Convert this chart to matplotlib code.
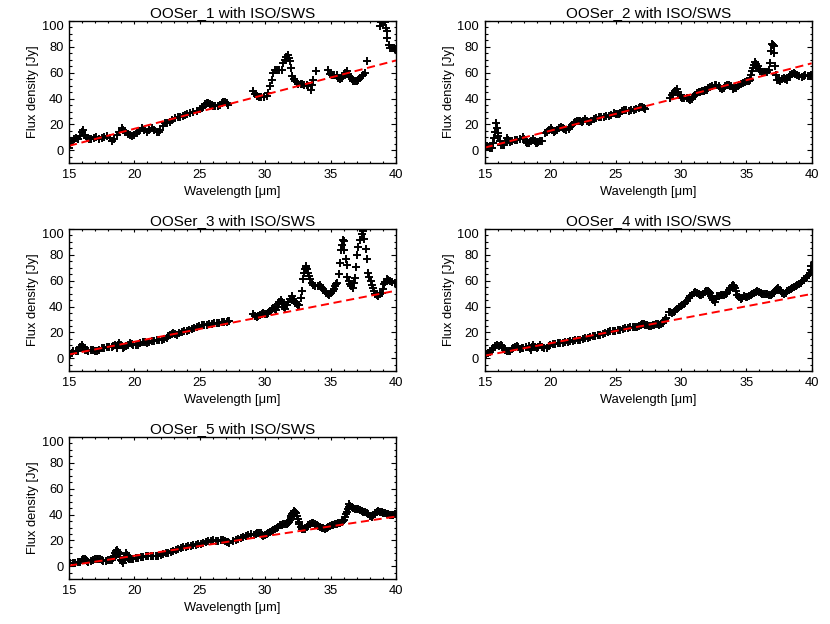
"""Five IRS-vs-ISO/SWS comparison panels (OOSer sources), IDL-style plots."""

import matplotlib

matplotlib.use("Agg")
import matplotlib.pyplot as plt  # noqa: E402
import numpy as np  # noqa: E402
from matplotlib.ticker import MultipleLocator  # noqa: E402

plt.rcParams["font.family"] = ["Liberation Sans", "DejaVu Sans"]

# (wavelength [um], flux density [Jy])
OOSER_1 = [
    (15.0, 1.6), (15.1, 5), (15.2, 7), (15.35, 8.5), (15.5, 9.3), (15.7, 9), (15.85, 11),
    (16.0, 14.5), (16.1, 15.7), (16.2, 12), (16.35, 9.3), (16.5, 8.5), (16.7, 8.5),
    (16.9, 9.5), (17.1, 10.6), (17.3, 9), (17.5, 9.5), (17.7, 10.5), (17.9, 11),
    (18.1, 9.5), (18.26, 7.5), (18.45, 9), (18.64, 11.9), (18.85, 14.5), (19.03, 17),
    (19.15, 16), (19.28, 14.4), (19.5, 12.5), (19.65, 11.5), (19.79, 11.1), (20.0, 12),
    (20.17, 13.2), (20.35, 15), (20.56, 17), (20.75, 15.5), (20.94, 14.4), (21.1, 15.5),
    (21.32, 17), (21.5, 15.5), (21.7, 13.9), (21.85, 14.5), (21.96, 15.5), (22.15, 18.5),
    (22.34, 20.9), (22.5, 21.5), (22.72, 22.2), (22.9, 23.5), (23.1, 24.7), (23.3, 25.5),
    (23.49, 26), (23.7, 26.5), (23.87, 27.3), (24.05, 28), (24.25, 28.6), (24.5, 29.9),
    (24.76, 30.7), (25.02, 31.7), (25.15, 32.5), (25.27, 33.8), (25.4, 35.5), (25.52, 36.9),
    (25.65, 36.5), (25.78, 35.8), (25.9, 35), (26.03, 34.3), (26.2, 34), (26.42, 34.3),
    (26.55, 35.3), (26.67, 36.3), (26.8, 37.6), (26.95, 37), (27.05, 36.3), (27.18, 35),
    (29.09, 45.6), (29.2, 43.5), (29.35, 41.8), (29.5, 41.5), (29.7, 41.5), (29.9, 41.5),
    (30.11, 41.8), (30.24, 44.3), (30.36, 49.5), (30.49, 54.6), (30.62, 59.8), (30.75, 62),
    (30.9, 62.4), (31.05, 62.4), (31.25, 62.4), (31.38, 67.5), (31.5, 70), (31.62, 72.5),
    (31.71, 73.4), (31.8, 71.5), (31.89, 68.8), (31.97, 63.7), (32.07, 57.2), (32.17, 55),
    (32.27, 53.4), (32.4, 52.5), (32.53, 51.5), (32.7, 51.5), (32.85, 51), (33.0, 50.8),
    (33.17, 50.5), (33.3, 49.5), (33.47, 46.9), (33.58, 50.5), (33.68, 54.6), (33.88, 61.1),
    (34.82, 61.9), (34.95, 59), (35.1, 58.5), (35.25, 58.5), (35.46, 58), (35.6, 56),
    (35.71, 55.2), (35.85, 56), (35.97, 57.2), (36.1, 59.5), (36.23, 61.1), (36.35, 59),
    (36.48, 56.5), (36.6, 55), (36.75, 53.8), (36.86, 53.4), (37.0, 53.8), (37.12, 54.6),
    (37.25, 56), (37.37, 57.2), (37.5, 58.5), (37.63, 59.8), (37.75, 69),
    (38.75, 96), (38.85, 99), (38.95, 100), (39.05, 100), (39.15, 99), (39.2, 94.6),
    (39.28, 92), (39.35, 86.8), (39.43, 81.7), (39.54, 79.5), (39.7, 79.5), (39.85, 79),
    (39.95, 78.5),
]

OOSER_2 = [
    (15.0, 2.9), (15.15, 3), (15.28, 2.9), (15.4, 2), (15.54, 1.6), (15.66, 5.4), (15.72, 9.5),
    (15.79, 14.4), (15.87, 20.9), (15.94, 17), (16.0, 13.5), (16.05, 11.1), (16.15, 7.5),
    (16.25, 4.1), (16.4, 4), (16.5, 4.1), (16.6, 6.5), (16.69, 9.3), (16.8, 8), (16.94, 6.7),
    (17.1, 7.5), (17.32, 8), (17.5, 8), (17.71, 8.5), (17.89, 10.6), (18.0, 9), (18.14, 6.7),
    (18.27, 6), (18.4, 5.4), (18.55, 7), (18.73, 8.5), (18.82, 7), (18.91, 5.4), (19.0, 6),
    (19.11, 6.7), (19.25, 7.2), (19.37, 7.5),
    (19.62, 13.2), (19.75, 14.5), (19.88, 15.8), (20.06, 17), (20.15, 15.5), (20.26, 14.4),
    (20.4, 14.8), (20.52, 15.8), (20.65, 17), (20.82, 18.3), (20.95, 17.2), (21.08, 16.3),
    (21.25, 16), (21.41, 16.3), (21.55, 18), (21.66, 19.6), (21.8, 21), (21.92, 22.2),
    (22.05, 22.8), (22.18, 23), (22.3, 22.6), (22.43, 22.2), (22.55, 23), (22.69, 24),
    (22.8, 23), (22.94, 22.2), (23.1, 23), (23.32, 24), (23.5, 24.8), (23.71, 25.5),
    (23.9, 25.8), (24.09, 26), (24.3, 26.3), (24.47, 26.8), (24.65, 27.5), (24.86, 28.6),
    (25.0, 28.2), (25.11, 27.8), (25.25, 28.4), (25.37, 29.1), (25.5, 30.2), (25.62, 31.2),
    (25.8, 31), (26.01, 30.7), (26.2, 31), (26.39, 31.2), (26.6, 31.8), (26.77, 32.5),
    (26.9, 33.2), (27.03, 33.8), (27.15, 33), (27.28, 31.7),
    (29.18, 40.5), (29.3, 42.5), (29.43, 44.3), (29.56, 46), (29.69, 47.7), (29.78, 45.5),
    (29.87, 43), (29.97, 41.5), (30.07, 40.5), (30.25, 40.5), (30.45, 40.5), (30.6, 39.8),
    (30.71, 39.2), (30.85, 40), (30.96, 41), (31.1, 42.5), (31.22, 44.3), (31.35, 44.8),
    (31.47, 45.1), (31.6, 45.6), (31.73, 46.1), (31.85, 46.5), (31.98, 46.9), (32.1, 48),
    (32.24, 49), (32.4, 50), (32.57, 50.8), (32.72, 50.2), (32.88, 49.5), (33.0, 48.5),
    (33.13, 47.7), (33.26, 48.5), (33.39, 49.5), (33.55, 50.2), (33.69, 50.8), (33.82, 49.5),
    (33.95, 47.7), (34.08, 47.9), (34.2, 48.2), (34.33, 49.5), (34.46, 50.8), (34.58, 51.5),
    (34.71, 52.1), (34.88, 52.8), (35.05, 53.4), (35.18, 54), (35.3, 54.6), (35.36, 58),
    (35.43, 61.1), (35.5, 64), (35.56, 66.2), (35.68, 68), (35.77, 66.5), (35.86, 64.9),
    (35.97, 63), (36.07, 61.1), (36.2, 60.5), (36.32, 60.3), (36.45, 60.3), (36.58, 60.3),
    (36.7, 62.4), (36.78, 67.5), (36.88, 76.5), (36.96, 82.2), (37.03, 81.5), (37.09, 80.4),
    (37.12, 75.3), (37.16, 64.9), (37.26, 58.5), (37.34, 54.6), (37.47, 54.2), (37.6, 53.9),
    (37.72, 55), (37.85, 55.9), (37.98, 55.2), (38.11, 54.6), (38.24, 56.5), (38.36, 58.5),
    (38.5, 59.2), (38.62, 59.8), (38.75, 59.2), (38.87, 58.5), (39.05, 57.5), (39.25, 56.4),
    (39.38, 57.2), (39.51, 58), (39.7, 57.5), (39.89, 57.2), (39.97, 58),
]

OOSER_3 = [
    (15.08, 3.4), (15.2, 4.5), (15.33, 5.4), (15.5, 5.6), (15.71, 5.9), (15.85, 8.5),
    (15.97, 10.6), (16.1, 8.5), (16.22, 6.7), (16.35, 6.2), (16.48, 5.9), (16.67, 6.3),
    (16.86, 6.7), (17.0, 6), (17.12, 5.4), (17.3, 6.8), (17.5, 8), (17.7, 8.3), (17.88, 8.5),
    (18.07, 8.5), (18.26, 8.5), (18.4, 9.3), (18.52, 10.1), (18.64, 8), (18.75, 10),
    (18.85, 11.9), (18.97, 10), (19.1, 8), (19.22, 8.6), (19.36, 9.3), (19.5, 10.5),
    (19.66, 11.9), (19.8, 11), (19.92, 10.6), (20.1, 10.3), (20.3, 10.1), (20.45, 11.5),
    (20.63, 12.7), (20.8, 12.3), (20.94, 11.9), (21.12, 12.5), (21.32, 13.2), (21.5, 13.8),
    (21.7, 14.4), (21.9, 14.4), (22.08, 14.4), (22.28, 15), (22.47, 15.7), (22.6, 17),
    (22.72, 18.3), (22.85, 19), (22.98, 19.6), (23.1, 19), (23.23, 18.3), (23.42, 19.4),
    (23.61, 20.4), (23.8, 20.9), (24.0, 21.4), (24.19, 22.2), (24.38, 23), (24.57, 23.5),
    (24.76, 24), (24.95, 24.8), (25.14, 25.5), (25.33, 25.8), (25.52, 26), (25.72, 26.3),
    (25.91, 26.6), (26.1, 27), (26.29, 27.3), (26.48, 27.7), (26.67, 28.1), (26.86, 28.1),
    (27.05, 28.1), (27.15, 28.6), (27.26, 29.1),
    (29.09, 34), (29.22, 33), (29.34, 32.2), (29.47, 32.8), (29.6, 33.3), (29.72, 34),
    (29.85, 34.8), (29.98, 34.4), (30.11, 34), (30.24, 35.3), (30.36, 36.6), (30.5, 38),
    (30.62, 39.2), (30.72, 38.3), (30.82, 37.4), (30.91, 39.6), (31.0, 41.8), (31.09, 43.5),
    (31.18, 45.1), (31.26, 43.5), (31.33, 41.8), (31.42, 40), (31.51, 38.4), (31.64, 41),
    (31.77, 43.6), (31.9, 46), (32.02, 48.2), (32.12, 46.2), (32.22, 44.3), (32.31, 43),
    (32.4, 41.8), (32.5, 41.4), (32.61, 41), (32.71, 46.9), (32.78, 52.1), (32.86, 61.6),
    (32.96, 66.2), (33.03, 69), (33.09, 71.4), (33.15, 70), (33.22, 68.8), (33.3, 66),
    (33.37, 63.7), (33.46, 61), (33.55, 58.5), (33.68, 57), (33.8, 55.9), (34.0, 56),
    (34.19, 56.4), (34.3, 55), (34.44, 53.4), (34.54, 52), (34.64, 50.8), (34.77, 49.7),
    (34.9, 48.7), (35.02, 50.3), (35.15, 52.1), (35.24, 54), (35.33, 55.9), (35.42, 57.2),
    (35.51, 58.5), (35.64, 65), (35.71, 74), (35.77, 83.8), (35.85, 88), (35.92, 91.5),
    (36.02, 91), (36.05, 84), (36.14, 77), (36.22, 71.9), (36.28, 63.1), (36.38, 60),
    (36.48, 57.2), (36.58, 55.8), (36.68, 54.6), (36.78, 58), (36.86, 62.4), (36.91, 70.9),
    (37.04, 79.6), (37.12, 86.3), (37.24, 91.5), (37.37, 95.9), (37.45, 98.5), (37.5, 99),
    (37.55, 92), (37.68, 84.3), (37.75, 76.5), (37.88, 66.2), (37.97, 63), (38.06, 59.8),
    (38.14, 57), (38.21, 54.6), (38.3, 52), (38.39, 49.5), (38.52, 48.8), (38.65, 48.2),
    (38.78, 49.5), (38.9, 50.8), (39.0, 54), (39.08, 57.2), (39.18, 59.2), (39.28, 61.1),
    (39.41, 60.5), (39.54, 59.8), (39.7, 59), (39.92, 58),
]

OOSER_4 = [
    (15.08, 3.4), (15.25, 4), (15.41, 4.9), (15.55, 6.5), (15.66, 8), (15.8, 9.5),
    (15.92, 10.6), (16.1, 9.3), (16.25, 10.6), (16.35, 9.5), (16.43, 8), (16.55, 6.5),
    (16.69, 5.4), (16.82, 5.6), (16.94, 5.9), (17.07, 7), (17.2, 8), (17.32, 8.7),
    (17.45, 9.3), (17.58, 8.4), (17.71, 7.5), (17.84, 7.8), (17.96, 8), (18.15, 8.6),
    (18.35, 9.3), (18.45, 8), (18.55, 6.7), (18.65, 8.5), (18.73, 10.1), (18.85, 9),
    (18.98, 8), (19.1, 9), (19.24, 10.1), (19.4, 9), (19.57, 8), (19.75, 8), (19.88, 9.3),
    (20.01, 10.6), (20.2, 10.8), (20.39, 11.1), (20.58, 11.5), (20.77, 11.9), (20.96, 12.1),
    (21.15, 12.4), (21.35, 12.8), (21.54, 13.2), (21.73, 13.5), (21.92, 13.9), (22.1, 14.1),
    (22.3, 14.4), (22.5, 15), (22.69, 15.7), (22.88, 16.1), (23.07, 16.5), (23.26, 17),
    (23.45, 17.5), (23.65, 17.9), (23.84, 18.3), (24.03, 19), (24.22, 19.6), (24.41, 20.3),
    (24.6, 20.9), (24.79, 21.2), (24.98, 21.4), (25.18, 21.8), (25.37, 22.2), (25.56, 22.9),
    (25.75, 23.5), (25.94, 23.8), (26.13, 24), (26.33, 24), (26.52, 24), (26.67, 24.4),
    (26.82, 24.8), (26.93, 25.7), (27.03, 26.6), (27.15, 26.4), (27.28, 26.1), (27.41, 25.5),
    (27.54, 24.8), (27.69, 25.1), (27.84, 25.5), (27.97, 26), (28.1, 26.6), (28.23, 26.4),
    (28.36, 26.1), (28.48, 26.7), (28.61, 27.3), (28.7, 28.5), (28.76, 29.9), (28.87, 31.2),
    (29.07, 35.8), (29.2, 35.5), (29.33, 35.1), (29.45, 35.7), (29.58, 36.3), (29.71, 37.8),
    (29.84, 39.4), (29.97, 40.5), (30.09, 41.5), (30.22, 42.2), (30.35, 42.8), (30.48, 44.7),
    (30.6, 46.6), (30.73, 48), (30.86, 49.2), (30.98, 50.3), (31.11, 51.3), (31.24, 50.5),
    (31.37, 49.7), (31.47, 49.2), (31.57, 48.7), (31.7, 50), (31.83, 51.3), (31.95, 51.8),
    (32.08, 52.3), (32.17, 51.5), (32.26, 50.5), (32.33, 48.5), (32.39, 46.6), (32.49, 45),
    (32.59, 43.6), (32.68, 45.8), (32.77, 47.9), (32.9, 48.3), (33.03, 48.7), (33.15, 48.7),
    (33.28, 48.7), (33.41, 49.6), (33.54, 50.5), (33.67, 52.5), (33.79, 54.4), (33.88, 55.7),
    (33.97, 57), (34.05, 55.7), (34.12, 54.4), (34.22, 51.8), (34.31, 49.2), (34.44, 47.6),
    (34.56, 46.1), (34.69, 47), (34.82, 47.9), (34.95, 47.5), (35.07, 47.2), (35.2, 48),
    (35.33, 48.7), (35.46, 49.6), (35.58, 50.5), (35.71, 51.4), (35.84, 52.3), (35.97, 51.4),
    (36.09, 50.5), (36.22, 50.1), (36.35, 49.7), (36.48, 49.7), (36.61, 49.7), (36.74, 49.2),
    (36.86, 48.7), (36.99, 49.6), (37.11, 50.5), (37.2, 51.8), (37.29, 53.1), (37.37, 53.8),
    (37.45, 54.4), (37.54, 53.1), (37.63, 51.8), (37.75, 50.7), (37.88, 49.7), (38.01, 50.7),
    (38.14, 51.8), (38.26, 52.8), (38.39, 53.9), (38.52, 54.4), (38.65, 54.9), (38.78, 55.6),
    (38.9, 56.4), (39.03, 57.3), (39.16, 58.2), (39.28, 59.5), (39.41, 60.8), (39.54, 62.1),
    (39.67, 63.4), (39.76, 64.7), (39.85, 66), (39.92, 68.5), (39.97, 71.1),
]

OOSER_5 = [
    (15.08, 2.3), (15.27, 2.6), (15.46, 2.9), (15.65, 3.2), (15.84, 3.6), (15.97, 4.8),
    (16.1, 5.9), (16.2, 5.4), (16.3, 4.9), (16.39, 4.1), (16.48, 3.4), (16.65, 4.1),
    (16.81, 4.9), (16.97, 5.4), (17.12, 5.9), (17.25, 5.6), (17.37, 5.4), (17.5, 4.7),
    (17.62, 4.1), (17.82, 4.5), (18.01, 4.9), (18.14, 4.9), (18.26, 4.9), (18.35, 6.4),
    (18.44, 8), (18.52, 10), (18.59, 11.9), (18.7, 12.7), (18.76, 11), (18.82, 9.3),
    (18.88, 7), (18.95, 4.9), (19.02, 3.9), (19.1, 2.9), (19.2, 4.8), (19.28, 6.7),
    (19.36, 10.6), (19.42, 8.5), (19.49, 6.7), (19.58, 6), (19.66, 5.4), (19.79, 5.6),
    (19.92, 5.9), (20.11, 6.3), (20.3, 6.7), (20.49, 7.1), (20.68, 7.5), (20.87, 7.8),
    (21.07, 8), (21.26, 8), (21.45, 8), (21.64, 8), (21.83, 8), (22.02, 8.6), (22.21, 9.3),
    (22.4, 10), (22.59, 10.6), (22.78, 11.3), (22.98, 11.9), (23.17, 12.5), (23.36, 13.2),
    (23.55, 14.1), (23.74, 15), (23.93, 15.3), (24.12, 15.7), (24.31, 16), (24.51, 16.3),
    (24.7, 16.6), (24.89, 17), (25.08, 17.6), (25.27, 18.3), (25.46, 19), (25.65, 19.6),
    (25.84, 19.9), (26.03, 20.1), (26.22, 19.8), (26.42, 19.6), (26.61, 20), (26.8, 20.4),
    (26.93, 19.6), (27.05, 18.8), (27.16, 18.5), (27.26, 18.3),
    (27.56, 19.6), (27.75, 20.5), (27.95, 21.4), (28.14, 22.2), (28.33, 23), (28.52, 23.5),
    (28.71, 24), (28.89, 24.8),
    (29.14, 24), (29.27, 24.8), (29.4, 25.5), (29.53, 25.5), (29.65, 25.5), (29.76, 24.5),
    (29.86, 23.5), (29.98, 24.2), (30.11, 24.8), (30.24, 25.7), (30.37, 26.6), (30.5, 27.4),
    (30.62, 28.1), (30.75, 29), (30.88, 29.9), (31.0, 30.8), (31.13, 31.7), (31.26, 32.1),
    (31.39, 32.5), (31.52, 32.5), (31.64, 32.5), (31.73, 33.4), (31.82, 34.3), (31.89, 36),
    (31.95, 37.6), (32.01, 38.9), (32.07, 40.2), (32.15, 41.5), (32.23, 42.8), (32.29, 42.2),
    (32.35, 41.5), (32.42, 39), (32.48, 36.3), (32.55, 34.4), (32.61, 32.5), (32.7, 30.5),
    (32.79, 28.6), (32.92, 28.8), (33.04, 29.1), (33.17, 30.4), (33.3, 31.7), (33.43, 32.8),
    (33.55, 33.8), (33.68, 33.2), (33.81, 32.5), (33.94, 31.8), (34.06, 31.2), (34.19, 30.5),
    (34.32, 29.9), (34.44, 29.5), (34.57, 29.1), (34.7, 29.9), (34.83, 30.7), (34.95, 31.2),
    (35.08, 31.7), (35.21, 32.1), (35.34, 32.5), (35.47, 32.9), (35.59, 33.3), (35.72, 33.8),
    (35.85, 34.3), (35.95, 35), (36.05, 35.8), (36.12, 38), (36.18, 40.2), (36.24, 42),
    (36.3, 44.1), (36.37, 46), (36.43, 47.9), (36.52, 47), (36.61, 46.1), (36.74, 45.3),
    (36.86, 44.6), (36.99, 44.3), (37.12, 44.1), (37.25, 43.4), (37.38, 42.8), (37.5, 42.4),
    (37.63, 42), (37.76, 41.1), (37.88, 40.2), (38.01, 39.3), (38.14, 38.4), (38.26, 39.7),
    (38.39, 41), (38.52, 41.9), (38.65, 42.8), (38.78, 42.4), (38.9, 42), (39.03, 41.5),
    (39.16, 41), (39.28, 40.6), (39.41, 40.2), (39.54, 39.8), (39.67, 39.4), (39.8, 39.8),
    (39.94, 40.2),
]

SPECTRA = [OOSER_1, OOSER_2, OOSER_3, OOSER_4, OOSER_5]
NAMES = ["OOSer_1", "OOSer_2", "OOSer_3", "OOSer_4", "OOSer_5"]

# red dashed continuum: flux at the two ends of the plotted range
FIT_X = [15.0, 40.0]
FIT_Y = [(3.5, 69.5), (2.1, 67.3), (3.0, 52.3), (2.1, 49.8), (0.6, 38.5)]

# panel corners in pixels (left, top) on the 830x624 canvas
W, H = 830, 624
PANELS = [(69, 21), (484.7, 21), (69, 229), (484.7, 229), (69, 437)]
PW, PH = 327, 142.3

fig = plt.figure(figsize=(W / 100, H / 100), dpi=100, facecolor="white")
axes = []

for (px, py), name, spec, fy in zip(PANELS, NAMES, SPECTRA, FIT_Y):
    ax = fig.add_axes([px / W, 1 - (py + PH) / H, PW / W, PH / H])
    w, f = np.array(spec).T
    ax.plot(w, f, ls="none", marker="+", ms=6.2, mew=1.4, color="black")
    ax.plot(FIT_X, fy, color="red", lw=1.4, dashes=(4.2, 2.4))

    ax.set_xlim(15, 40)
    ax.set_ylim(-10, 100)
    ax.xaxis.set_major_locator(MultipleLocator(5))
    ax.xaxis.set_minor_locator(MultipleLocator(1))
    ax.yaxis.set_major_locator(MultipleLocator(20))
    ax.yaxis.set_minor_locator(MultipleLocator(5))
    ax.tick_params(direction="in", top=True, right=True, labelsize=9.3, width=0.8,
                   which="both", pad=4)
    ax.tick_params(axis="x", which="major", length=2.4)
    ax.tick_params(axis="x", which="minor", length=1.2)
    ax.tick_params(axis="y", which="major", length=3.6)
    ax.tick_params(axis="y", which="minor", length=1.8)
    for s in ax.spines.values():
        s.set_linewidth(1.0)

    ax.set_title(f"{name} with ISO/SWS", fontsize=11, pad=3)
    ax.set_xlabel("Wavelength [μm]", fontsize=9.3, labelpad=4)
    ax.set_ylabel("Flux density [Jy]", fontsize=9.3, labelpad=2)
    axes.append(ax)

# IDL keeps the top y label inside the box: push the "100" label down
fig.canvas.draw()
for ax in axes:
    for t in ax.yaxis.get_major_ticks():
        if abs(t.get_loc() - 100) < 1e-6:
            t.label1.set_verticalalignment("top")

fig.savefig("out.png", dpi=100)
